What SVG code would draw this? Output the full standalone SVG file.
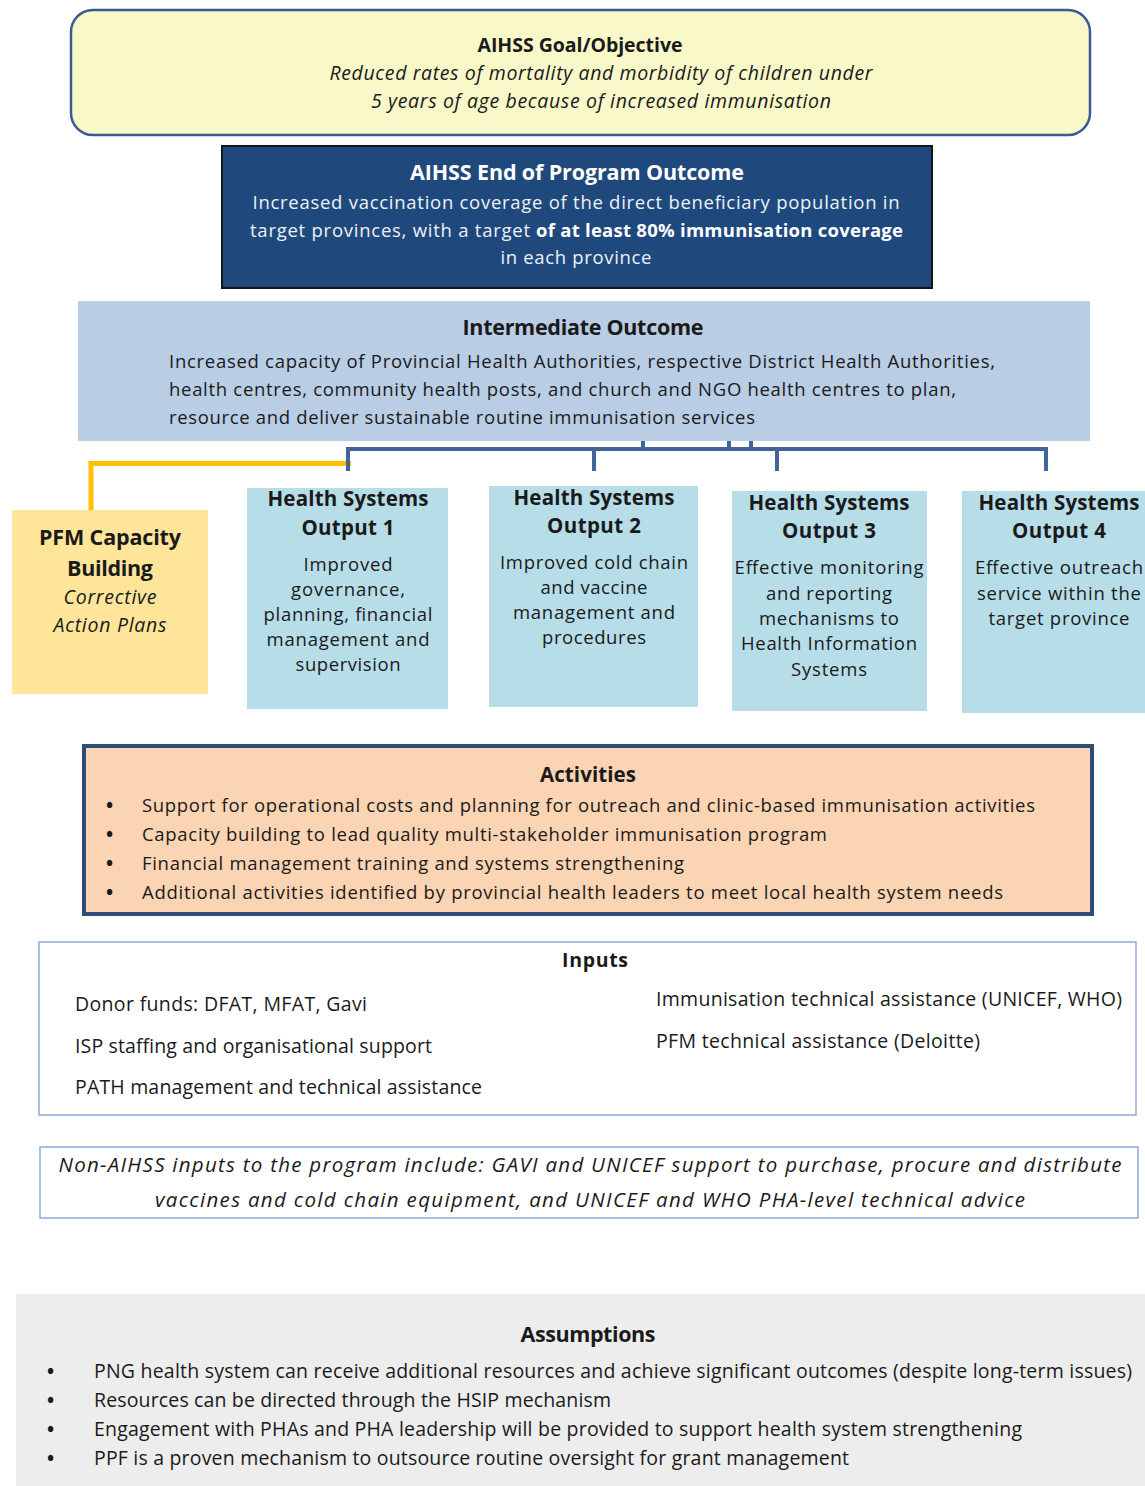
<svg xmlns="http://www.w3.org/2000/svg" width="1145" height="1486" viewBox="0 0 1145 1486">
  <style>
    text { font-family: "Open Sans", "Noto Sans", "Liberation Sans", sans-serif; fill: #1a1a1a; }
    .b { font-weight: 700; }
    .i { font-style: italic; }
    .c { text-anchor: middle; }
    .t17 { font-size: 18.5px; }
    .t18 { font-size: 19.5px; }
    .t19 { font-size: 20.5px; }
    .t20 { font-size: 21.5px; }
    .bul { font-size: 19px; font-weight: 700; }
    .w { fill: #eef1f6; }
    .wb { fill: #ffffff; font-weight: 700; }
    .out { fill: #b7dde8; }
    .conn-blue { stroke: #41659a; stroke-width: 4; fill: none; }
    .conn-gold { stroke: #ffc000; stroke-width: 5; fill: none; }
    .thin { fill: #ffffff; stroke: #8ea9db; stroke-width: 1.5; }
  </style>

  <rect width="1145" height="1486" fill="#ffffff"/>

  <!-- Goal / objective -->
  <g id="goal">
    <rect x="71" y="10" width="1019" height="125" rx="22" ry="22" fill="#f8f8c9" stroke="#3b5998" stroke-width="2.5"/>
    <text class="b t18 c" x="580" y="52" textLength="205">AIHSS Goal/Objective</text>
    <text class="i t18 c" x="601" y="80" textLength="543">Reduced rates of mortality and morbidity of children under</text>
    <text class="i t18 c" x="601" y="108" textLength="460">5 years of age because of increased immunisation</text>
  </g>

  <!-- End of program outcome -->
  <g id="end-outcome">
    <rect x="222" y="146" width="710" height="142" fill="#1f497d" stroke="#151515" stroke-width="2"/>
    <text class="wb t20 c" x="577" y="180" textLength="334">AIHSS End of Program Outcome</text>
    <text class="w t17 c" x="576" y="209" textLength="647">Increased vaccination coverage of the direct beneficiary population in</text>
    <text class="w t17" x="250" y="237" textLength="280">target provinces, with a target</text>
    <text class="wb t17" x="536" y="237" textLength="367">of at least 80% immunisation coverage</text>
    <text class="w t17 c" x="576" y="264" textLength="151">in each province</text>
  </g>

  <!-- Intermediate outcome -->
  <g id="intermediate-outcome">
    <rect x="78" y="301" width="1012" height="140" fill="#b9cde5"/>
    <text class="b t20 c" x="583" y="335" textLength="241">Intermediate Outcome</text>
    <text class="t17" x="169" y="368" textLength="826">Increased capacity of Provincial Health Authorities, respective District Health Authorities,</text>
    <text class="t17" x="169" y="396" textLength="787">health centres, community health posts, and church and NGO health centres to plan,</text>
    <text class="t17" x="169" y="424" textLength="586">resource and deliver sustainable routine immunisation services</text>
  </g>

  <!-- Connectors -->
  <g id="connectors">
    <path class="conn-gold" d="M91,510 V463.5 H351"/>
    <path class="conn-blue" d="M348,471 V449 H1046 V471"/>
    <path class="conn-blue" d="M594,449 V471 M777,449 V471"/>
    <path class="conn-blue" d="M643,441 V449 M729,441 V449 M751,441 V449"/>
  </g>

  <!-- PFM capacity building -->
  <g id="pfm">
    <rect x="12" y="510" width="196" height="184" fill="#ffe599"/>
    <text class="b t20 c" x="110" y="545" textLength="142">PFM Capacity</text>
    <text class="b t20 c" x="110" y="576" textLength="86">Building</text>
    <text class="i t18 c" x="110" y="604" textLength="93">Corrective</text>
    <text class="i t18 c" x="110" y="632" textLength="113">Action Plans</text>
  </g>

  <!-- Health systems outputs -->
  <g id="output-1">
    <rect class="out" x="247" y="488" width="201" height="221"/>
    <text class="b t19 c" x="348" y="506" textLength="161">Health Systems</text>
    <text class="b t19 c" x="348" y="535" textLength="93">Output 1</text>
    <text class="t17 c" x="348" y="571" textLength="89">Improved</text>
    <text class="t17 c" x="348" y="596" textLength="114">governance,</text>
    <text class="t17 c" x="348" y="621" textLength="169">planning, financial</text>
    <text class="t17 c" x="348" y="646" textLength="163">management and</text>
    <text class="t17 c" x="348" y="671" textLength="105">supervision</text>
  </g>

  <g id="output-2">
    <rect class="out" x="489" y="486" width="209" height="221"/>
    <text class="b t19 c" x="594" y="505" textLength="161">Health Systems</text>
    <text class="b t19 c" x="594" y="533" textLength="94">Output 2</text>
    <text class="t17 c" x="594" y="569" textLength="188">Improved cold chain</text>
    <text class="t17 c" x="594" y="594" textLength="107">and vaccine</text>
    <text class="t17 c" x="594" y="619" textLength="162">management and</text>
    <text class="t17 c" x="594" y="644" textLength="104">procedures</text>
  </g>

  <g id="output-3">
    <rect class="out" x="732" y="491" width="195" height="220"/>
    <text class="b t19 c" x="829" y="510" textLength="161">Health Systems</text>
    <text class="b t19 c" x="829" y="538" textLength="94">Output 3</text>
    <text class="t17 c" x="829" y="574" textLength="189">Effective monitoring</text>
    <text class="t17 c" x="829" y="600" textLength="126">and reporting</text>
    <text class="t17 c" x="829" y="625" textLength="140">mechanisms to</text>
    <text class="t17 c" x="829" y="650" textLength="176">Health Information</text>
    <text class="t17 c" x="829" y="676" textLength="76">Systems</text>
  </g>

  <g id="output-4">
    <rect class="out" x="962" y="491" width="183" height="222"/>
    <text class="b t19 c" x="1059" y="510" textLength="161">Health Systems</text>
    <text class="b t19 c" x="1059" y="538" textLength="94">Output 4</text>
    <text class="t17 c" x="1059" y="574" textLength="168">Effective outreach</text>
    <text class="t17 c" x="1059" y="600" textLength="164">service within the</text>
    <text class="t17 c" x="1059" y="625" textLength="141">target province</text>
  </g>

  <!-- Activities -->
  <g id="activities">
    <rect x="84" y="746" width="1008" height="168" fill="#fbd4b4" stroke="#2e4d7b" stroke-width="4"/>
    <text class="b t19 c" x="588" y="782" textLength="96">Activities</text>
    <text class="bul" x="106" y="812">•</text>
    <text class="t17" x="142" y="812" textLength="893">Support for operational costs and planning for outreach and clinic-based immunisation activities</text>
    <text class="bul" x="106" y="841">•</text>
    <text class="t17" x="142" y="841" textLength="685">Capacity building to lead quality multi-stakeholder immunisation program</text>
    <text class="bul" x="106" y="870">•</text>
    <text class="t17" x="142" y="870" textLength="542">Financial management training and systems strengthening</text>
    <text class="bul" x="106" y="899">•</text>
    <text class="t17" x="142" y="899" textLength="861">Additional activities identified by provincial health leaders to meet local health system needs</text>
  </g>

  <!-- Inputs -->
  <g id="inputs">
    <rect class="thin" x="39" y="942" width="1097" height="173"/>
    <text class="b t18 c" x="595" y="967" textLength="66">Inputs</text>
    <text class="t18" x="75" y="1011" textLength="292">Donor funds: DFAT, MFAT, Gavi</text>
    <text class="t18" x="75" y="1053" textLength="357">ISP staffing and organisational support</text>
    <text class="t18" x="75" y="1094" textLength="407">PATH management and technical assistance</text>
    <text class="t18" x="656" y="1006" textLength="466">Immunisation technical assistance (UNICEF, WHO)</text>
    <text class="t18" x="656" y="1048" textLength="324">PFM technical assistance (Deloitte)</text>
  </g>

  <!-- Non-AIHSS inputs -->
  <g id="non-aihss-inputs">
    <rect class="thin" x="40" y="1147" width="1098" height="71"/>
    <text class="i t19 c" x="590" y="1172" textLength="1063">Non-AIHSS inputs to the program include: GAVI and UNICEF support to purchase, procure and distribute</text>
    <text class="i t19 c" x="590" y="1207" textLength="870">vaccines and cold chain equipment, and UNICEF and WHO PHA-level technical advice</text>
  </g>

  <!-- Assumptions -->
  <g id="assumptions">
    <rect x="16" y="1294" width="1129" height="192" fill="#ededed"/>
    <text class="b t20 c" x="588" y="1342" textLength="135">Assumptions</text>
    <text class="bul" x="47" y="1378">•</text>
    <text class="t18" x="94" y="1378" textLength="1038">PNG health system can receive additional resources and achieve significant outcomes (despite long-term issues)</text>
    <text class="bul" x="47" y="1407">•</text>
    <text class="t18" x="94" y="1407" textLength="517">Resources can be directed through the HSIP mechanism</text>
    <text class="bul" x="47" y="1436">•</text>
    <text class="t18" x="94" y="1436" textLength="928">Engagement with PHAs and PHA leadership will be provided to support health system strengthening</text>
    <text class="bul" x="47" y="1465">•</text>
    <text class="t18" x="94" y="1465" textLength="755">PPF is a proven mechanism to outsource routine oversight for grant management</text>
  </g>
</svg>
